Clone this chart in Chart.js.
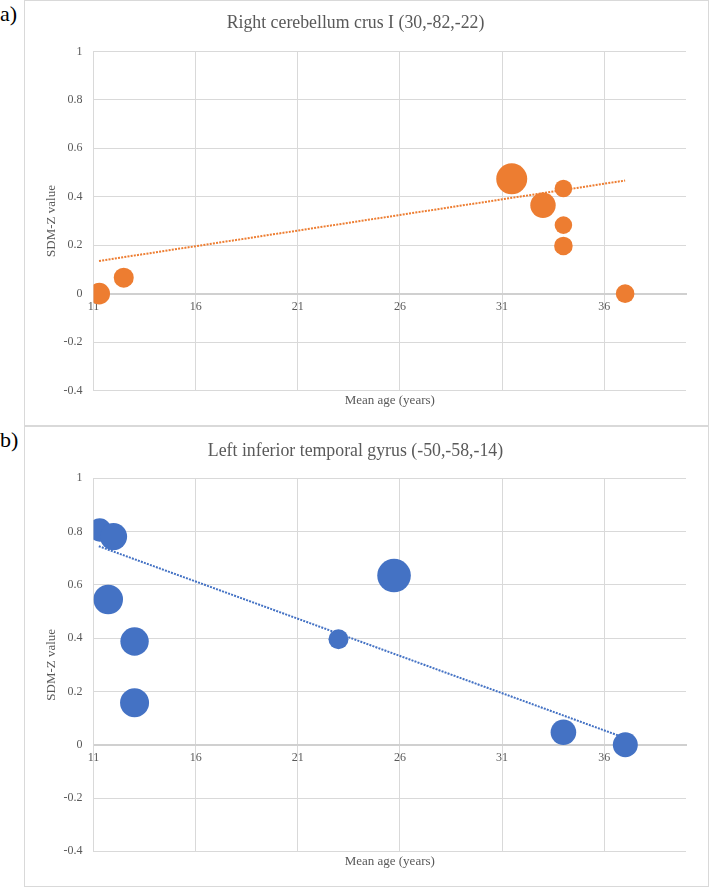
<!DOCTYPE html>
<html>
<head>
<meta charset="utf-8">
<script src="https://cdn.jsdelivr.net/npm/chart.js@4.4.0/dist/chart.umd.min.js"></script>
<style>
  body { margin: 0; background: #fff; width: 709px; height: 887px; position: relative; overflow: hidden; font-family: "Liberation Serif", serif; }
  .panel { position: absolute; left: 24px; width: 685px; box-sizing: border-box; border: 1px solid #d9d9d9; }
  .panel canvas { display: block; }
  .etiqueta { position: absolute; left: 0; font-size: 22px; line-height: 22px; color: #000; }
</style>
</head>
<body>
<div class="etiqueta" style="top:3px">a)</div>
<div class="panel" style="top:0;height:426px"><canvas id="graficoA" width="683" height="424"></canvas></div>
<div class="etiqueta" style="top:429px">b)</div>
<div class="panel" style="top:426px;height:461px"><canvas id="graficoB" width="683" height="459"></canvas></div>

<script>
// ejes
const ticksEdad = [11, 16, 21, 26, 31, 36];
const ticksZ = [-0.4, -0.2, 0, 0.2, 0.4, 0.6, 0.8, 1];

// a) Right cerebellum crus I
const edadA = [11.28, 12.48, 31.47, 33.0, 34.0, 34.0, 34.0, 37.02];
const zA = [0, 0.066, 0.474, 0.365, 0.434, 0.283, 0.197, 0];
const tamanoA = [10.8, 10, 15.5, 12.7, 8.8, 8.8, 9.3, 9.3];
const tendenciaEdadA = [11.27, 37.02];
const tendenciaZA = [0.135, 0.467];

// b) Left inferior temporal gyrus
const edadB = [11.3, 11.98, 11.72, 13.01, 13.01, 22.99, 25.71, 34.0, 37.03];
const zB = [0.806, 0.781, 0.545, 0.3875, 0.1575, 0.396, 0.635, 0.047, 0];
const tamanoB = [11.7, 13.6, 14.8, 14.2, 14.5, 10, 16.8, 12.8, 12.5];
const tendenciaEdadB = [11.26, 37.03];
const tendenciaZB = [0.745, 0.025];

const fuente = '"Liberation Serif", serif';
const gris = "#d9d9d9";
const textoGris = "#595959";

const crearGrafico = (canvas, titulo, color, edad, z, tamano, tendEdad, tendZ, medidas) => {
  const puntos = edad.map((x, i) => ({ x: x, y: z[i], r: tamano[i] }));
  const linea = tendEdad.map((x, i) => ({ x: x, y: tendZ[i] }));

  new Chart(canvas, {
    type: "bubble",
    data: {
      datasets: [
        {
          type: "line",
          data: linea,
          borderColor: color,
          borderWidth: 2,
          borderDash: [2, 1.2],
          pointRadius: 0,
          fill: false,
          order: 2,
        },
        {
          data: puntos,
          backgroundColor: color,
          borderWidth: 0,
          hoverRadius: 0,
          order: 1,
        },
      ],
    },
    options: {
      responsive: false,
      animation: false,
      events: [],
      layout: { padding: { left: 0, right: 22, top: 0, bottom: medidas.abajo } },
      plugins: {
        legend: { display: false },
        tooltip: { enabled: false },
        title: {
          display: true,
          text: titulo,
          color: textoGris,
          font: { family: fuente, size: 17.8, weight: "normal", lineHeight: 1.15 },
          padding: { top: medidas.tituloArriba, bottom: medidas.tituloAbajo },
        },
      },
      scales: {
        x: {
          type: "linear",
          position: { y: 0 },
          min: 11,
          max: 40,
          afterBuildTicks: (s) => { s.ticks = ticksEdad.map((v) => ({ value: v })); },
          afterFit: (s) => { s.height = 0; },
          grid: { color: gris, drawTicks: false },
          border: { color: "#d0d0d0", width: 2 },
          ticks: {
            color: textoGris,
            font: { family: fuente, size: 12 },
            padding: 6,
            autoSkip: false,
            maxRotation: 0,
            callback: (v) => String(v),
          },
        },
        x2: {
          type: "linear",
          axis: "x",
          position: "bottom",
          min: 11,
          max: 40,
          grid: { display: false, drawTicks: false },
          border: { display: false },
          ticks: { display: false },
          title: {
            display: true,
            text: "Mean age (years)",
            color: textoGris,
            font: { family: fuente, size: 13 },
            padding: { top: medidas.ejeX, bottom: 4 },
          },
        },
        y: {
          type: "linear",
          position: "left",
          min: -0.4,
          max: 1,
          afterBuildTicks: (s) => { s.ticks = ticksZ.map((v) => ({ value: v })); },
          afterFit: (s) => { s.width = 68.5; },
          grid: { color: gris, drawTicks: false },
          border: { color: gris },
          ticks: {
            color: textoGris,
            font: { family: fuente, size: 12 },
            padding: 11,
            callback: (v) => String(Number(v.toFixed(1))),
          },
          title: {
            display: true,
            text: "SDM-Z value",
            color: textoGris,
            font: { family: fuente, size: 13 },
            padding: { top: 18.5, bottom: 0 },
          },
        },
      },
    },
  });
};

crearGrafico(
  document.getElementById("graficoA"),
  "Right cerebellum crus I (30,-82,-22)",
  "#ED7D31",
  edadA, zA, tamanoA, tendenciaEdadA, tendenciaZA,
  { tituloArriba: 11.8, tituloAbajo: 18.2, ejeX: 2, abajo: 12.9 }
);

crearGrafico(
  document.getElementById("graficoB"),
  "Left inferior temporal gyrus (-50,-58,-14)",
  "#4472C4",
  edadB, zB, tamanoB, tendenciaEdadB, tendenciaZB,
  { tituloArriba: 13.8, tituloAbajo: 17.0, ejeX: 2.9, abajo: 12.2 }
);
</script>
</body>
</html>
